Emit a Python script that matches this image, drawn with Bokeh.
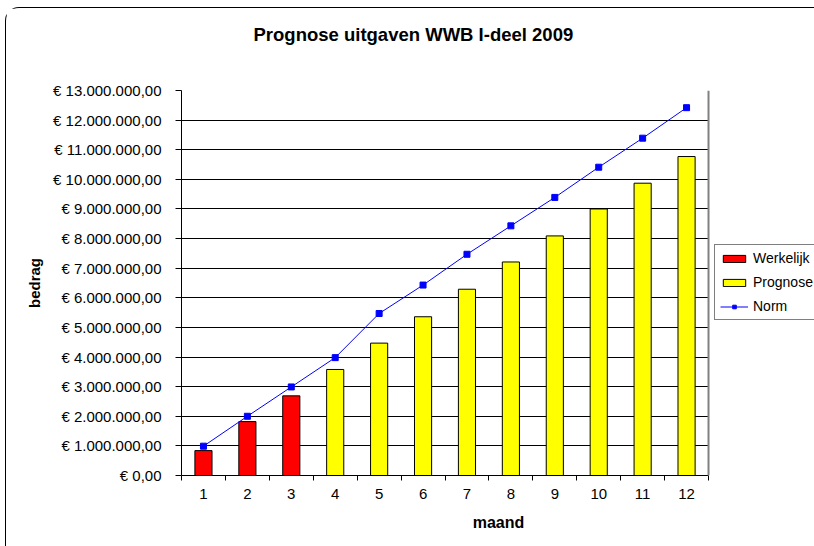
from bokeh.plotting import figure
from bokeh.models import ColumnDataSource, FixedTicker, Legend, LegendItem, Range1d, Span, BoxAnnotation, Title
from bokeh.embed import file_html
from bokeh.resources import INLINE

# ---- data ----
months = list(range(1, 13))
werkelijk_months = [1, 2, 3]
werkelijk = [840000, 1820000, 2690000]
prognose_months = [4, 5, 6, 7, 8, 9, 10, 11, 12]
prognose = [3580000, 4470000, 5360000, 6290000, 7210000, 8090000, 9000000, 9870000, 10770000]
norm = [990000, 2000000, 2990000, 3980000, 5470000, 6430000, 7470000, 8430000, 9390000, 10410000, 11390000, 12420000]
y_ticks = list(range(0, 13000001, 1000000))
title_text = "Prognose uitgaven WWB I-deel 2009"

def euro(v):
    s = f"{v:,.2f}"
    s = s.replace(",", "X").replace(".", ",").replace("X", ".")
    return "€ " + s

y_labels = {t: euro(t) for t in y_ticks}

FONT = "Liberation Sans"

# category slots: 0.5 .. 12.5 is the plot area; space to the right holds the legend
x_lo, x_hi = 0.5, 12.5
x_view_end = x_hi + 2.436

p = figure(width=809, height=539, output_backend="svg", toolbar_location=None,
           x_range=Range1d(x_lo, x_view_end), y_range=Range1d(0, 13000000),
           min_border_left=175, min_border_right=0, min_border_top=82, min_border_bottom=72)
p.styles = {"border-left": "1px solid #000000", "border-top": "1px solid #000000",
            "border-top-left-radius": "14px", "margin-left": "5px", "margin-top": "7px"}

# spacer between plot area and title, then the title itself
p.add_layout(Title(text=" ", text_font_size="1px", standoff=38), "above")
p.add_layout(Title(text=title_text, text_font=FONT, text_font_size="18.5px", text_color="black",
                   text_font_style="bold", align="left", offset=72, standoff=10), "above")

p.background_fill_color = "white"
p.border_fill_color = "white"
p.outline_line_color = None

# grid
p.xgrid.grid_line_color = None
p.ygrid.ticker = FixedTicker(ticks=y_ticks)
p.ygrid.grid_line_color = "black"
p.ygrid.grid_line_width = 1

# axes
p.yaxis.ticker = FixedTicker(ticks=y_ticks)
p.yaxis.major_label_overrides = y_labels
p.yaxis.major_label_text_font = FONT
p.yaxis.major_label_text_font_size = "15px"
p.yaxis.major_label_text_color = "black"
p.yaxis.major_label_standoff = 14
p.yaxis.major_tick_out = 6
p.yaxis.major_tick_in = 0
p.yaxis.major_tick_line_color = "black"
p.yaxis.minor_tick_line_color = None
p.yaxis.axis_line_color = "black"
p.yaxis.axis_label = "bedrag"
p.yaxis.axis_label_text_font = FONT
p.yaxis.axis_label_text_font_size = "15px"
p.yaxis.axis_label_text_font_style = "bold"
p.yaxis.axis_label_text_color = "black"
p.yaxis.axis_label_standoff = 7

p.xaxis.ticker = FixedTicker(ticks=months, minor_ticks=[m + 0.5 for m in range(0, 13)])
p.xaxis.bounds = (x_lo, x_hi)
p.xaxis.major_tick_line_color = None
p.xaxis.minor_tick_out = 5
p.xaxis.minor_tick_in = 0
p.xaxis.minor_tick_line_color = "black"
p.xaxis.major_label_text_font = FONT
p.xaxis.major_label_text_font_size = "15px"
p.xaxis.major_label_text_color = "black"
p.xaxis.major_label_standoff = 7
p.xaxis.axis_line_color = "black"
p.xaxis.axis_label = "maand"
p.xaxis.axis_label_text_font = FONT
p.xaxis.axis_label_text_font_size = "16px"
p.xaxis.axis_label_text_font_style = "bold"
p.xaxis.axis_label_text_color = "black"
p.xaxis.axis_label_standoff = 12

src_w = ColumnDataSource(dict(x=werkelijk_months, top=werkelijk))
src_p = ColumnDataSource(dict(x=prognose_months, top=prognose))
src_n = ColumnDataSource(dict(x=months, y=norm))

r_w = p.vbar(x="x", top="top", width=0.39, source=src_w, fill_color="#FF0000", line_color="black", line_width=1)
r_p = p.vbar(x="x", top="top", width=0.39, source=src_p, fill_color="#FFFF00", line_color="black", line_width=1)
r_nl = p.line(x="x", y="y", source=src_n, line_color="#0000FF", line_width=1)
r_ns = p.scatter(x="x", y="y", source=src_n, marker="square", size=6, fill_color="#0000FF", line_color="#0000FF")

# blank out the legend strip, then the grey right border of the plot area
p.add_layout(BoxAnnotation(left=x_hi, fill_color="white", fill_alpha=1, line_color=None))
p.add_layout(Span(location=x_hi, dimension="height", line_color="#808080", line_width=2))

legend = Legend(items=[LegendItem(label="Werkelijk", renderers=[r_w]),
                       LegendItem(label="Prognose", renderers=[r_p]),
                       LegendItem(label="Norm", renderers=[r_nl, r_ns])],
                location=(533, 155))
legend.label_text_font = FONT
legend.label_text_font_size = "14px"
legend.label_text_color = "black"
legend.label_standoff = 5
legend.glyph_width = 28
legend.glyph_height = 9
legend.label_height = 16
legend.spacing = 8
legend.padding = 5
legend.margin = 0
legend.border_line_color = "black"
legend.border_line_width = 1
legend.background_fill_color = "white"
legend.background_fill_alpha = 1
p.add_layout(legend, "center")

open("out.html", "w").write(file_html(p, INLINE))
